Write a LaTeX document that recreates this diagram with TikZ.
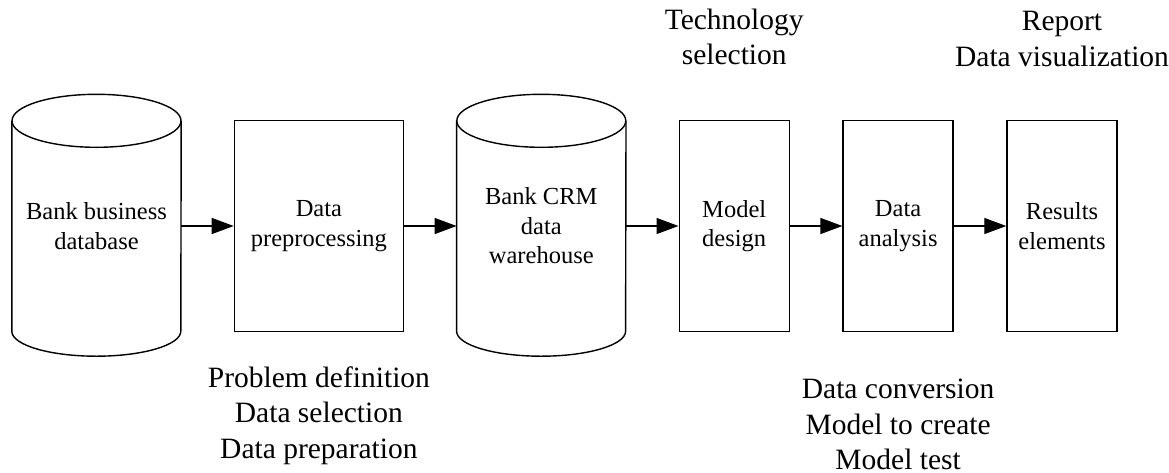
\documentclass[tikz,border=0pt]{standalone}
\usepackage{fontspec}
\setmainfont{Liberation Serif}
\usetikzlibrary{arrows.meta, positioning}

\begin{document}
\begin{tikzpicture}[
      x=1pt, y=-1pt,
      node distance = 52.5pt,
      >={Triangle[length=22pt, width=16pt]},
      line/.style   = {line width=1.3pt,->},
      outline/.style = {line width=1.4pt},
      block/.style  = {rectangle, draw, outline, align=center,
        minimum width=110pt, minimum height=211pt, inner sep=2pt,
      font=\fontsize{24.5}{29.5}\selectfont},
      store/.style  = {rectangle, align=center,
        minimum width=169pt, minimum height=210pt, inner sep=2pt,
      font=\fontsize{24.5}{29.5}\selectfont},
      note/.style   = {align=center, inner sep=0pt,
      font=\fontsize{29.5}{35.5}\selectfont}
    ]
    \useasboundingbox (0,0) rectangle (1169,472);

    % ---------------- main chain ----------------
    \node[store] (bankdb) at (96.5,226) {Bank business\\database};
    \node[block, right=of bankdb, minimum width=169pt] (prep)
    {Data\\preprocessing};
    \node[store, right=of prep] (crm) {Bank CRM\\data\\warehouse};
    \node[block, right=of crm]      (model)    {Model\\design};
    \node[block, right=of model]    (analysis) {Data\\analysis};
    \node[block, right=of analysis] (results)  {Results\\elements};

    % cylinder outlines round the two stores
    \foreach \n in {bankdb, crm} {
      \draw[outline] (\n.north west) -- (\n.south west)
      arc[start angle=180, end angle=360, x radius=84.5pt, y radius=25pt]
      -- (\n.north east);
      \draw[outline] (\n.north) ellipse [x radius=84.5pt, y radius=26.5pt];
    }

    % ---------------- notes ----------------
    \node[note, below=34pt of prep] (prepNote)
    {Problem definition\\Data selection\\Data preparation};
    \node[note, above=54.5pt of model] (modelNote)
    {Technology\\selection};
    \node[note, below=47pt of analysis] (analysisNote)
    {Data conversion\\Model to create\\Model test};
    \node[note, above=53pt of results] (resultsNote)
    {Report\\Data visualization};

    % ---------------- arrows ----------------
    \draw[line] (bankdb) -- (prep);
    \draw[line] (prep) -- (crm);
    \draw[line] (crm) -- (model);
    \draw[line] (model) -- (analysis);
    \draw[line] (analysis) -- (results);

  \end{tikzpicture}
\end{document}
